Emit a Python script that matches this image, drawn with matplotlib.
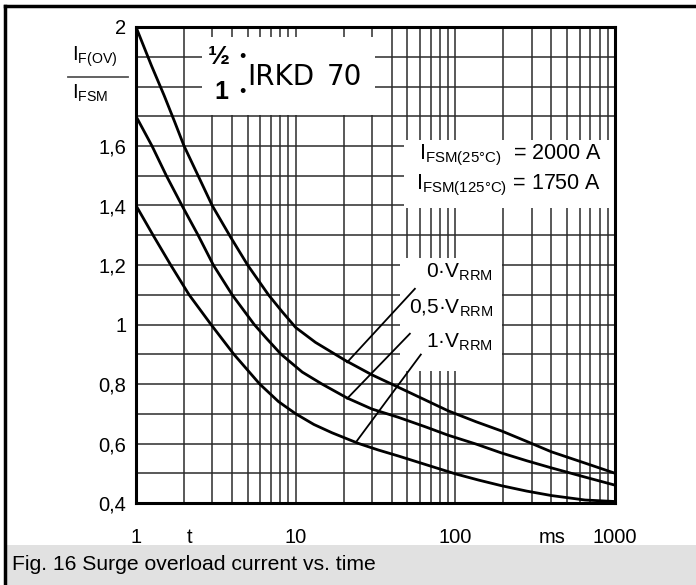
import matplotlib
matplotlib.use('Agg')
import matplotlib.pyplot as plt
import numpy as np
from matplotlib.ticker import LogLocator, MultipleLocator, NullFormatter
from matplotlib.patches import Rectangle
from matplotlib.lines import Line2D

plt.rcParams['font.family'] = ['Liberation Sans', 'DejaVu Sans']
plt.rcParams['mathtext.fontset'] = 'custom'
plt.rcParams['mathtext.rm'] = 'Liberation Sans'
plt.rcParams['mathtext.it'] = 'Liberation Sans:italic'
plt.rcParams['mathtext.bf'] = 'Liberation Sans:bold'

# curves: t in ms, ratio IF(OV)/IFSM
t_0v = [1, 1.25, 1.5, 1.75, 2, 2.45, 3, 3.9, 5, 6.75, 8.2, 10, 13.3, 20.5, 30, 44, 65, 90,
        135, 195, 280, 400, 650, 1000]
v_0v = [2.0, 1.87, 1.77, 1.68, 1.6, 1.5, 1.4, 1.295, 1.2, 1.1, 1.044, 0.99, 0.94, 0.879,
        0.831, 0.789, 0.746, 0.71, 0.673, 0.642, 0.607, 0.572, 0.534, 0.50]

t_05v = [1, 1.26, 1.55, 1.94, 2.45, 3.05, 4.0, 5.5, 6.6, 8.1, 11, 14.6, 21, 30, 44, 65, 90,
         135, 195, 280, 400, 650, 1000]
v_05v = [1.7, 1.6, 1.5, 1.4, 1.3, 1.2, 1.1, 1.0, 0.952, 0.9, 0.84, 0.8, 0.753, 0.716, 0.688,
         0.656, 0.628, 0.598, 0.568, 0.542, 0.518, 0.487, 0.46]

t_1v = [1, 1.28, 1.65, 2.15, 2.95, 4.1, 5.95, 7.8, 10, 13, 16.9, 24.8, 33, 44, 70, 100, 140,
        195, 280, 400, 650, 1000]
v_1v = [1.4, 1.3, 1.2, 1.1, 1.0, 0.9, 0.8, 0.741, 0.7, 0.664, 0.636, 0.600, 0.578, 0.558,
        0.524, 0.498, 0.477, 0.458, 0.44, 0.425, 0.41, 0.405]

# leader lines (curve point -> label)
lead_t = [[21, 55.8], [21, 51.9], [24.2, 60.8]]
lead_v = [[0.873, 1.12], [0.751, 0.969], [0.609, 0.899]]
curve_labels = ['0·V$_\\mathrm{RRM}$', '0,5·V$_\\mathrm{RRM}$', '1·V$_\\mathrm{RRM}$']
label_v = [1.175, 1.054, 0.94]

yticks = [0.4, 0.6, 0.8, 1.0, 1.2, 1.4, 1.6, 2.0]
ytick_labels = ['0,4', '0,6', '0,8', '1', '1,2', '1,4', '1,6', '2']
xticks = [1, 2.18, 10, 100, 403, 1000]
xtick_labels = ['1', 't', '10', '100', 'ms', '1000']

W, H = 696, 585
fig = plt.figure(figsize=(W / 100, H / 100), dpi=100)


def fx(x):
    return x / W


def fy(y):
    return 1 - y / H


ax = fig.add_axes([fx(136), fy(503), (615 - 136) / W, (503 - 27) / H])
ax.set_xscale('log')
ax.set_xlim(1, 1000)
ax.set_ylim(0.4, 2.0)

ax.xaxis.set_minor_locator(LogLocator(base=10, subs=np.arange(1, 10), numticks=20))
ax.xaxis.set_minor_formatter(NullFormatter())
ax.yaxis.set_minor_locator(MultipleLocator(0.1))
ax.yaxis.set_minor_formatter(NullFormatter())
ax.xaxis.remove_overlapping_locs = False
ax.yaxis.remove_overlapping_locs = False
ax.set_axisbelow(True)
ax.grid(which='minor', color='#2b2b2b', lw=1.1)
ax.grid(which='major', visible=False)

ax.set_xticks(xticks)
ax.set_xticklabels(xtick_labels, fontsize=14.5)
ax.set_yticks(yticks)
ax.set_yticklabels(ytick_labels, fontsize=14.5)
ax.tick_params(which='both', length=0)
ax.tick_params(axis='x', pad=18)
ax.tick_params(axis='y', pad=7)
for s in ax.spines.values():
    s.set_linewidth(2.2)

# white boxes behind the texts
for (t0, t1, v0, v1) in [(2.6, 31.5, 1.705, 1.967), (48, 1000, 1.39, 1.62), (45, 195, 0.845, 1.225)]:
    ax.add_patch(Rectangle((t0, v0), t1 - t0, v1 - v0, facecolor='white',
                           edgecolor='none', zorder=1))

for t, v in [(t_0v, v_0v), (t_05v, v_05v), (t_1v, v_1v)]:
    ax.plot(t, v, color='black', lw=2.0, zorder=3, solid_joinstyle='round')

for lt, lv in zip(lead_t, lead_v):
    ax.plot(lt, lv, color='black', lw=1.3, zorder=3)

for lab, lv in zip(curve_labels, label_v):
    ax.text(172, lv, lab, fontsize=15, ha='right', va='center', zorder=4)

ax.text(824, 1.569, 'I$_\\mathrm{FSM(25\\degree C)}$  = 2000 A', fontsize=15.5,
        ha='right', va='center', zorder=4)
ax.text(824, 1.468, 'I$_\\mathrm{FSM(125\\degree C)}$ = 1750 A', fontsize=15.5,
        ha='right', va='center', zorder=4)

# type label
ax.text(2.8, 1.899, '½', fontsize=19, fontweight='bold', ha='left', va='center', zorder=4)
ax.text(3.42, 1.783, '1', fontsize=18, fontweight='bold', ha='center', va='center', zorder=4)
ax.text(4.65, 1.896, '•', fontsize=13, ha='center', va='center', zorder=4)
ax.text(4.65, 1.78, '•', fontsize=13, ha='center', va='center', zorder=4)
ax.text(5.0, 1.805, 'IRKD', fontsize=20, family='DejaVu Sans', ha='left', va='baseline', zorder=4)
ax.text(15.6, 1.805, '70', fontsize=20, family='DejaVu Sans', ha='left', va='baseline', zorder=4)

# y axis label as fraction
fig.text(fx(72), fy(57), 'I$_\\mathrm{F(OV)}$', fontsize=14.5, ha='left', va='center')
fig.text(fx(72), fy(93), 'I$_\\mathrm{FSM}$', fontsize=14.5, ha='left', va='center')
fig.add_artist(Line2D([fx(68), fx(128)], [fy(77), fy(77)], color='#555555', lw=1.3))

# caption band and frame
fig.add_artist(Rectangle((fx(5), 0), 1 - fx(5), 40 / H, facecolor='#e1e1e1',
                         edgecolor='none', transform=fig.transFigure))
fig.text(fx(12), fy(564), 'Fig. 16 Surge overload current vs. time', fontsize=15.2,
         ha='left', va='center')
fig.add_artist(Line2D([fx(4.5), fx(4.5)], [0, fy(6)], color='black', lw=2.5))
fig.add_artist(Line2D([fx(4.5), 1], [fy(6), fy(6)], color='black', lw=2.5))

fig.savefig('out.png', dpi=100)
